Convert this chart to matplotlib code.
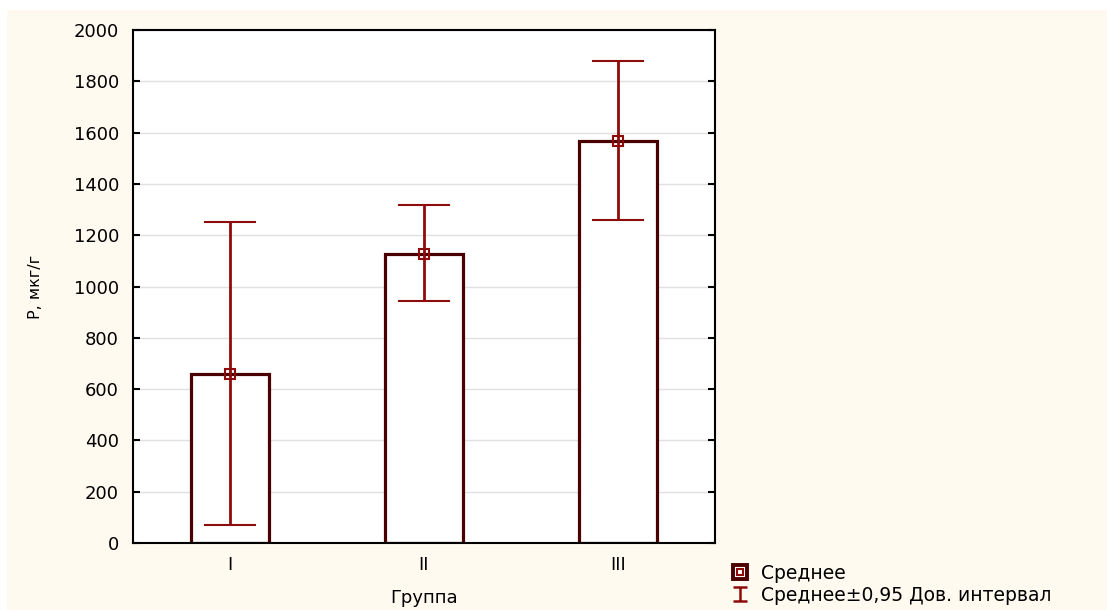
import matplotlib
matplotlib.use("Agg")
import matplotlib.pyplot as plt
from matplotlib.patches import Rectangle
from matplotlib.lines import Line2D
from matplotlib.path import Path
from matplotlib.legend_handler import HandlerTuple

categories = ["I", "II", "III"]
means = [660, 1127, 1567]
ci_low = [70, 943, 1259]
ci_high = [1251, 1318, 1879]
yticks = [0, 200, 400, 600, 800, 1000, 1200, 1400, 1600, 1800, 2000]

cream = "#FFFAEF"
bar_edge = "#4A0000"
err_col = "#8E0B0B"

plt.rcParams['font.family'] = ['DejaVu Sans']

fig = plt.figure(figsize=(11.07, 6.10), dpi=100, facecolor="white")
fig.add_artist(Rectangle((7/1107, 0), 1, 600/610, transform=fig.transFigure,
                         facecolor=cream, edgecolor="none", zorder=-10))

ax = fig.add_axes([133/1107, 67/610, 582/1107, 513/610])
ax.set_facecolor("white")
x = list(range(1, len(categories) + 1))
ax.bar(x, means, width=0.4, facecolor="white", edgecolor=bar_edge, linewidth=2.3, zorder=2)
yerr = [[m - l for m, l in zip(means, ci_low)], [h - m for m, h in zip(means, ci_high)]]
ax.errorbar(x, means, yerr=yerr, fmt='s', color=err_col, ecolor=err_col, elinewidth=2,
            capsize=19, capthick=2, markersize=7, markerfacecolor="none",
            markeredgecolor=err_col, markeredgewidth=1.5, zorder=3)

ax.set_xlim(0.5, 3.5)
ax.set_ylim(0, 2000)
ax.set_xticks(x)
ax.set_xticklabels(categories)
ax.set_yticks(yticks)
ax.tick_params(axis='both', direction='in', length=5, width=1.5, labelsize=13,
               right=True, top=False)
ax.tick_params(axis='y', pad=10)
ax.tick_params(axis='x', pad=9)
ax.grid(axis='y', color="#E0E0E0", linewidth=1, zorder=0)
ax.set_axisbelow(True)
for s in ax.spines.values():
    s.set_linewidth(1.5)
    s.set_color("black")

ax.set_xlabel("Группа", fontsize=13, labelpad=11)
ax.set_ylabel("P, мкг/г", fontsize=11.5, labelpad=22)

# legend
ibeam = Path([(-1, 1), (1, 1), (0, 1), (0, -1), (-1, -1), (1, -1)],
             [Path.MOVETO, Path.LINETO, Path.MOVETO, Path.LINETO, Path.MOVETO, Path.LINETO])
h1 = (Line2D([], [], marker='s', linestyle='none', markersize=10.5, markerfacecolor="white",
             markeredgecolor=bar_edge, markeredgewidth=2.8),
      Line2D([], [], marker='s', linestyle='none', markersize=5, markerfacecolor="none",
             markeredgecolor=err_col, markeredgewidth=1.5))
h2 = Line2D([], [], marker=ibeam, linestyle='none', markersize=10, color=err_col,
            markeredgewidth=1.8)
fig.legend([h1, h2], ["Среднее", "Среднее±0,95 Дов. интервал"],
           handler_map={tuple: HandlerTuple(ndivide=1, pad=0)},
           loc='upper left', bbox_to_anchor=(728/1107, 1 - 564/610), frameon=False,
           fontsize=13.5, handlelength=1.3, handletextpad=0.45, labelspacing=0.15,
           borderaxespad=0, borderpad=0)

fig.savefig("out.png", dpi=100, facecolor=fig.get_facecolor())
